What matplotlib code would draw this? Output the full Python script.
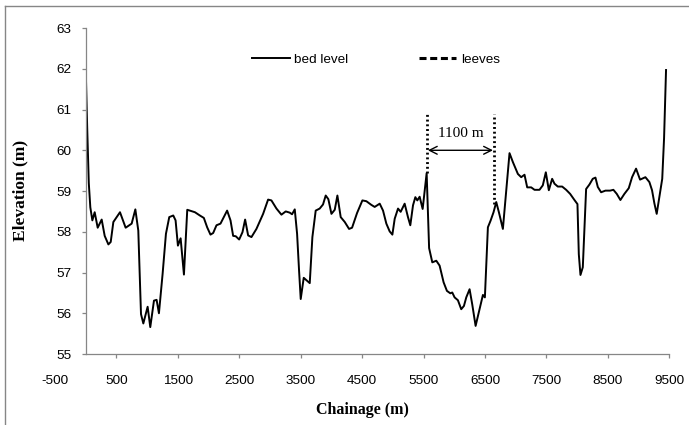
import matplotlib
matplotlib.use("Agg")
import matplotlib.pyplot as plt
from matplotlib.lines import Line2D
from matplotlib.transforms import ScaledTranslation

# bed level profile along the reach
chainage = [0, 25, 50, 75, 108, 146, 195, 260, 309, 369, 407, 450, 558, 650, 748,
            808, 856, 900, 938, 1008, 1051, 1111, 1154, 1192, 1252, 1306, 1360,
            1425, 1463, 1501, 1545, 1599, 1653, 1778, 1858, 1923, 1977, 2031, 2075,
            2129, 2194, 2248, 2302, 2357, 2400, 2443, 2498, 2552, 2595, 2644, 2698,
            2779, 2888, 2969, 3023, 3105, 3186, 3256, 3321, 3359, 3403, 3441, 3473,
            3500, 3549, 3603, 3647, 3690, 3744, 3809, 3863, 3907, 3950, 4000, 4054,
            4097, 4151, 4217, 4287, 4336, 4417, 4504, 4569, 4650, 4704, 4786, 4840,
            4894, 4948, 4992, 5030, 5084, 5127, 5192, 5246, 5284, 5328, 5366, 5398,
            5436, 5485, 5550, 5590, 5642, 5707, 5761, 5826, 5880, 5935, 5967, 6005,
            6059, 6113, 6157, 6195, 6249, 6292, 6347, 6412, 6466, 6498, 6547, 6590,
            6639, 6683, 6726, 6791, 6845, 6899, 6954, 7035, 7089, 7143, 7187, 7252,
            7306, 7387, 7441, 7490, 7539, 7593, 7631, 7685, 7756, 7821, 7886, 7956,
            8005, 8027, 8054, 8092, 8119, 8146, 8200, 8254, 8298, 8336, 8390, 8460,
            8536, 8590, 8645, 8704, 8769, 8840, 8894, 8959, 9024, 9111, 9176, 9219,
            9257, 9295, 9338, 9385, 9415, 9447]
bed_level = [62.0, 60.5, 59.2, 58.6, 58.28, 58.48, 58.1, 58.3, 57.9, 57.69, 57.75, 58.24, 58.48, 58.1, 58.2,
             58.55, 58.03, 55.98, 55.75, 56.16, 55.66, 56.31, 56.33, 56.0, 56.97, 57.95, 58.36,
             58.4, 58.28, 57.66, 57.84, 56.95, 58.54, 58.48, 58.4, 58.34, 58.11, 57.93, 57.97,
             58.16, 58.2, 58.36, 58.52, 58.28, 57.9, 57.89, 57.81, 57.99, 58.3, 57.91, 57.87,
             58.07, 58.44, 58.79, 58.77, 58.57, 58.42, 58.5, 58.47, 58.43, 58.55, 57.95, 57.05,
             56.35, 56.87, 56.8, 56.74, 57.87, 58.52, 58.57, 58.67, 58.89, 58.8, 58.44, 58.54,
             58.89, 58.36, 58.24, 58.07, 58.1, 58.46, 58.77, 58.75, 58.66, 58.61, 58.69, 58.52,
             58.2, 58.01, 57.93, 58.32, 58.57, 58.49, 58.69, 58.36, 58.16, 58.65, 58.85, 58.77,
             58.86, 58.56, 59.44, 57.6, 57.25, 57.29, 57.17, 56.76, 56.55, 56.49, 56.51, 56.39,
             56.32, 56.1, 56.18, 56.39, 56.59, 56.22, 55.69, 56.1, 56.45, 56.39, 58.11, 58.27,
             58.48, 58.73, 58.48, 58.07, 59.01, 59.93, 59.71, 59.42, 59.34, 59.4, 59.09, 59.09,
             59.03, 59.03, 59.14, 59.46, 59.02, 59.3, 59.18, 59.11, 59.11, 59.03, 58.93, 58.78,
             58.68, 57.45, 56.94, 57.13, 58.11, 59.05, 59.16, 59.3, 59.33, 59.1, 58.97, 59.01,
             59.01, 59.03, 58.93, 58.78, 58.93, 59.07, 59.34, 59.55, 59.28, 59.34, 59.22, 59.02,
             58.7, 58.44, 58.85, 59.3, 60.3, 61.97]

# levee positions and the heights of the dotted markers
levee_x = [5550, 6650]
levee_top = 60.9
levee_bottom = [59.44, 58.68]
arrow_y = 60.0

xtick_values = list(range(-500, 10000, 1000))
ytick_values = list(range(55, 64))

axis_grey = "#868686"

fig = plt.figure(figsize=(6.89, 4.25), dpi=100)
ax = fig.add_axes([0.1244, 0.167, 0.847, 0.767])

ax.plot(chainage, bed_level, color="black", lw=1.4, solid_joinstyle="round")

for x, yb in zip(levee_x, levee_bottom):
    ax.plot([x, x], [yb, levee_top], color="black", lw=2.0,
            linestyle=(0, (0.7, 1.0)))

ax.annotate("", xy=(levee_x[1] - 20, arrow_y), xytext=(levee_x[0] + 20, arrow_y),
            arrowprops=dict(arrowstyle="<->", color="black", lw=1.0,
                            mutation_scale=14, shrinkA=0, shrinkB=0))
ax.text(sum(levee_x) / 2, arrow_y + 0.42, f"{levee_x[1] - levee_x[0]} m",
        ha="center", va="center", fontsize=11, family="Liberation Serif")

ax.set_xlim(0, 9500)
ax.set_ylim(55, 63)
shown = [v for v in xtick_values if v > 0]
ax.set_xticks(shown)
ax.set_xticklabels([str(v) for v in shown])
ax.set_yticks(ytick_values)

for side in ("top", "right"):
    ax.spines[side].set_visible(False)
for side in ("left", "bottom"):
    ax.spines[side].set_color(axis_grey)
    ax.spines[side].set_linewidth(0.9)

ax.tick_params(axis="both", colors=axis_grey, labelcolor="black",
               labelsize=9.7, length=3, width=0.9, direction="out")
ax.tick_params(axis="x", pad=12)
ax.tick_params(axis="y", pad=7)
for lab in ax.get_xticklabels() + ax.get_yticklabels():
    lab.set_family("Liberation Sans")

# the first category label sits left of the value axis
below = ax.get_xaxis_transform() + ScaledTranslation(0, -15 / 72, fig.dpi_scale_trans)
ax.text(-500, 0, "-500", transform=below, ha="center", va="top",
        fontsize=9.7, family="Liberation Sans", clip_on=False)

handles = [Line2D([], [], color="black", lw=1.4),
           Line2D([], [], color="black", lw=2.2, linestyle=(0, (2.3, 1.2)))]
ax.legend(handles, ["bed level", "leeves"], loc="center left",
          bbox_to_anchor=(0.285, 0.902), ncol=2, frameon=False,
          borderpad=0, borderaxespad=0, handlelength=2.8, handletextpad=0.35,
          columnspacing=5.2, prop={"family": "Liberation Sans", "size": 9.7})

fig.text(20 / 689, 1 - 190 / 425, "Elevation (m)", rotation=90, ha="center",
         va="center", fontsize=12.5, fontweight="bold", family="Liberation Serif")
fig.text(362 / 689, 1 - 410 / 425, "Chainage (m)", ha="center", va="center",
         fontsize=11.5, fontweight="bold", family="Liberation Serif")

# chart area frame
fig.add_artist(Line2D([5 / 689, 5 / 689], [0, 1 - 6 / 425], color=axis_grey, lw=1.0))
fig.add_artist(Line2D([5 / 689, 1], [1 - 6 / 425, 1 - 6 / 425], color=axis_grey, lw=1.0))

fig.savefig("out.png", dpi=100)
